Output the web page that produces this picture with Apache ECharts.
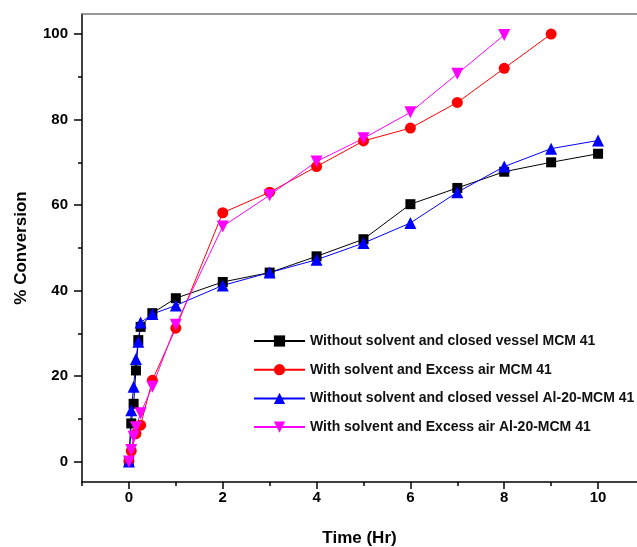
<!DOCTYPE html>
<html>
<head>
<meta charset="utf-8">
<script src="https://cdn.jsdelivr.net/npm/echarts@6/dist/echarts.min.js"></script>
<style>html,body{margin:0;padding:0;background:#fff;}#c{width:637px;height:547px;}</style>
</head>
<body>
<div id="c"></div>
<script>
const seriesNames = [
  'Without solvent and closed vessel MCM 41',
  'With solvent and Excess air MCM 41',
  'Without solvent and closed vessel Al-20-MCM 41',
  'With solvent and Excess air Al-20-MCM 41'
];
const timeBlack = [0,0.05,0.1,0.15,0.2,0.25,0.5,1,2,3,4,5,6,7,8,9,10];
const convBlack = [0,8.9,13.5,21.3,28.4,31.5,34.7,38.2,42,44.2,48,52,60.2,64,67.8,70,72];
const timeRed = [0,0.05,0.15,0.25,0.5,1,2,3,4,5,6,7,8,9];
const convRed = [0,2.5,6.5,8.5,19,31.2,58.2,63,69,75,78,84,92,100];
const timeBlue = [0,0.05,0.1,0.15,0.2,0.25,0.5,1,2,3,4,5,6,7,8,9,10];
const convBlue = [0,12,17.5,24,28,32.5,34.5,36.5,41.2,44.2,47.2,51.1,55.8,63,69,73.2,75.1];
const timeMag = [0,0.05,0.1,0.15,0.25,0.5,1,2,3,4,5,6,7,8];
const convMag = [0,2.7,5.8,8,11.3,17.5,32,55,62.3,70.2,75.6,81.7,90.7,99.8];
const xMajor = [0,2,4,6,8,10];
const xMinor = [-1,1,3,5,7,9];
const yMajor = [0,20,40,60,80,100];
const yMinor = [10,30,50,70,90];

const pair = (t, v) => t.map((x, i) => [x, v[i]]);
const FONT = '"Liberation Sans", Arial, sans-serif';
const xMin = -1, xMax = 10.83, yMin = -4.8, yMax = 104.7;

const chart = echarts.init(document.getElementById('c'));
const lineStyleAxis = {color: '#000', width: 1.5};
chart.setOption({
  animation: false,
  grid: {left: 82, top: 14, right: 0, bottom: 65, outerBoundsMode: 'none', containLabel: false},
  legend: {
    orient: 'vertical', left: 253, top: 334, padding: 0,
    itemWidth: 51, itemHeight: 14, itemGap: 14.7,
    textStyle: {fontFamily: FONT, fontWeight: 'bold', fontSize: 14, color: '#111'},
    data: seriesNames
  },
  xAxis: [
    {type: 'value', min: xMin, max: xMax, position: 'bottom',
     name: 'Time (Hr)', nameLocation: 'middle', nameGap: 48,
     nameTextStyle: {fontFamily: FONT, fontWeight: 'bold', fontSize: 17, color: '#000'},
     axisLine: {show: true, onZero: false, lineStyle: lineStyleAxis},
     axisTick: {show: true, inside: false, length: 7, customValues: xMajor, lineStyle: {color: '#000', width: 1.5}},
     axisLabel: {customValues: xMajor, fontFamily: FONT, fontWeight: 'bold', fontSize: 15, color: '#000', margin: 8},
     splitLine: {show: false}},
    {type: 'value', min: xMin, max: xMax, position: 'bottom',
     axisLine: {show: false, onZero: false},
     axisTick: {show: true, length: 4, customValues: xMinor, lineStyle: {color: '#000', width: 1.5}},
     axisLabel: {show: false}, splitLine: {show: false}},
    {type: 'value', min: xMin, max: xMax, position: 'top',
     axisLine: {show: true, onZero: false, lineStyle: {color: '#777', width: 1.5}},
     axisTick: {show: false}, axisLabel: {show: false}, splitLine: {show: false}}
  ],
  yAxis: [
    {type: 'value', min: yMin, max: yMax, position: 'left',
     name: '% Conversion', nameLocation: 'middle', nameGap: 52, nameRotate: 90,
     nameTextStyle: {fontFamily: FONT, fontWeight: 'bold', fontSize: 17, color: '#000'},
     axisLine: {show: true, onZero: false, lineStyle: lineStyleAxis},
     axisTick: {show: true, length: 8, customValues: yMajor, lineStyle: {color: '#000', width: 1.5}},
     axisLabel: {customValues: yMajor, fontFamily: FONT, fontWeight: 'bold', fontSize: 15, color: '#000', margin: 14},
     splitLine: {show: false}},
    {type: 'value', min: yMin, max: yMax, position: 'left', offset: 0,
     axisLine: {show: false, onZero: false},
     axisTick: {show: true, length: 4, customValues: yMinor, lineStyle: {color: '#000', width: 1.5}},
     axisLabel: {show: false}, splitLine: {show: false}}
  ],
  series: [
    {name: seriesNames[0], type: 'line', data: pair(timeBlack, convBlack),
     symbol: 'rect', symbolSize: 10, itemStyle: {color: '#000'}, lineStyle: {color: '#000', width: 1}},
    {name: seriesNames[1], type: 'line', data: pair(timeRed, convRed),
     symbol: 'circle', symbolSize: 11, itemStyle: {color: '#ff0000'}, lineStyle: {color: '#ff0000', width: 1}},
    {name: seriesNames[2], type: 'line', data: pair(timeBlue, convBlue),
     symbol: 'triangle', symbolSize: 12, itemStyle: {color: '#0000ff'}, lineStyle: {color: '#0000ff', width: 1}},
    {name: seriesNames[3], type: 'line', data: pair(timeMag, convMag),
     symbol: 'triangle', symbolRotate: 180, symbolSize: 12, itemStyle: {color: '#ff00ff'}, lineStyle: {color: '#ff00ff', width: 1}}
  ]
});
</script>
</body>
</html>
